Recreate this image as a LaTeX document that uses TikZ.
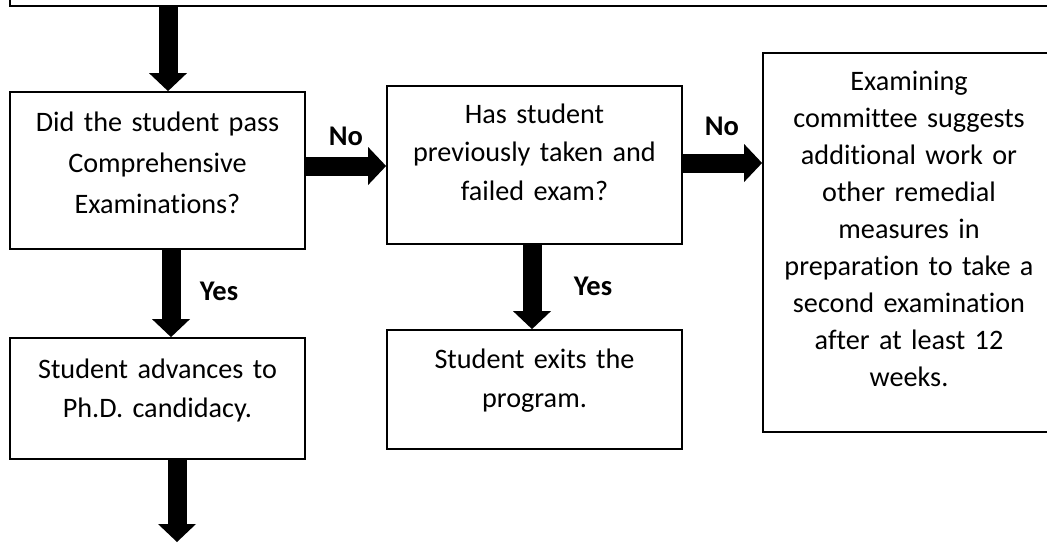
\documentclass[tikz,border=0pt]{standalone}
\usepackage{fontspec}
\setmainfont{Carlito}[Ligatures={NoCommon}]
\usetikzlibrary{arrows.meta}
\begin{document}
\begin{tikzpicture}[x=1pt,y=-1pt,
  box/.style={draw, line width=1.8pt, rectangle, inner sep=0pt},
  txt/.style={text width=290pt, align=center, inner sep=0pt, anchor=base},
  lbl/.style={font=\fontsize{28.5}{35}\selectfont\bfseries, inner sep=0pt, anchor=base},
  barrow/.style={line width=19pt, -{Triangle[width=38pt,length=18pt,line width=0pt]}}]
\useasboundingbox (0,0) rectangle (1047,542);
\begin{scope}
\clip (0,0) rectangle (1047,542);
% boxes
\node[box, minimum width=1060pt, minimum height=46pt] (b0) at (540,-17) {};
\node[box, minimum width=295pt, minimum height=157pt] (b1) at (157.5,170.5) {};
\node[box, minimum width=295pt, minimum height=158pt] (b2) at (534.5,165) {};
\node[box, minimum width=292pt, minimum height=379pt] (b3) at (909,242.5) {};
\node[box, minimum width=295pt, minimum height=121pt] (b4) at (157.5,398.5) {};
\node[box, minimum width=295pt, minimum height=119pt] (b5) at (534.5,389.5) {};
\end{scope}
% texts
\node[txt, font=\fontsize{28.2}{41}\selectfont] (t1) at (157.5,131) {Did the student pass\\Comprehensive\\Examinations?};
\node[txt, font=\fontsize{28.2}{38.5}\selectfont] (t2) at (534.5,123) {Has student\\previously taken and\\failed exam?};
\node[txt, font=\fontsize{28.2}{37.1}\selectfont] (t3) at (909,90) {Examining\\committee suggests\\additional work or\\other remedial\\measures in\\preparation to take a\\second examination\\after at least 12\\weeks.};
\node[txt, font=\fontsize{28.2}{39}\selectfont] (t4) at (157.5,378) {Student advances to\\Ph.D. candidacy.};
\node[txt, font=\fontsize{28.2}{39}\selectfont] (t5) at (534.5,368) {Student exits the\\program.};
% arrow guides
\coordinate (xa) at (168,0);
\coordinate (xy1) at (171,0);
\coordinate (xy2) at (532,0);
\coordinate (xb) at (177,0);
\coordinate (yn1) at (0,166);
\coordinate (yn2) at (0,163);
\coordinate (bend) at (177,542);
% arrows
\draw[barrow] (b0.south -| xa) -- (b1.north -| xa);
\draw[barrow] (b1.east |- yn1) -- (b2.west |- yn1);
\draw[barrow] (b2.east |- yn2) -- (b3.west |- yn2);
\draw[barrow] (b1.south -| xy1) -- (b4.north -| xy1);
\draw[barrow] (b2.south -| xy2) -- (b5.north -| xy2);
\draw[barrow] (b4.south -| xb) -- (bend);
% labels
\node[lbl] (l1) at (346,145) {No};
\node[lbl] (l2) at (722,135) {No};
\node[lbl] (l3) at (219,300) {Yes};
\node[lbl] (l4) at (593,295) {Yes};
\end{tikzpicture}
\end{document}
